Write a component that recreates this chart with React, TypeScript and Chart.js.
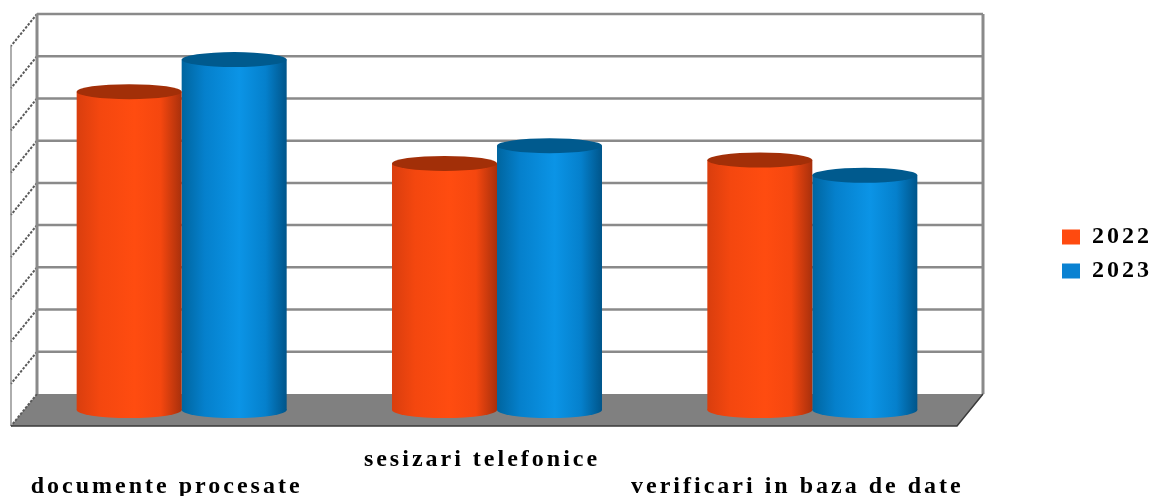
import React, { useEffect, useRef } from "react";
import { Chart, registerables } from "chart.js";

Chart.register(...registerables);

const categories = [
  ["", "documente procesate"],
  ["sesizari telefonice", ""],
  ["", "verificari in baza de date"],
];
const series2022 = [7.54, 5.84, 5.92];
const series2023 = [8.3, 6.26, 5.56];
const seriesNames = ["2022", "2023"];
const yMin = 0;
const yMax = 9;
const yStep = 1;

const DX = 13;
const DY = 16;
const PLOT = { left: 24, top: 30, right: 970.5 };
const FONT = "'Liberation Serif'";
const GROUP_RATIO = 0.666;

const palettes = [
  { solid: "#ff4a0f", stops: ["#d93e0e", "#f4470f", "#ff4c10", "#f5470f", "#a8300c"], cap: "#a22f08" },
  { solid: "#0a82d2", stops: ["#00659f", "#0580cc", "#0b94e6", "#0580cc", "#00558a"], cap: "#005a8e" },
];

function barGradient(c: any) {
  const p = palettes[c.datasetIndex];
  if (c.dataIndex === undefined || c.type !== "data") return p.solid;
  const scale = c.chart.scales.x;
  if (!scale || scale.width == null) return p.solid;
  const step = scale.width / categories.length;
  const w = (step * GROUP_RATIO) / 2;
  const mid = scale.getPixelForTick(c.dataIndex);
  const x0 = c.datasetIndex === 0 ? mid - w : mid;
  const g = c.chart.ctx.createLinearGradient(x0, 0, x0 + w, 0);
  [0, 0.22, 0.55, 0.8, 1].forEach((o, i) => g.addColorStop(o, p.stops[i]));
  return g;
}

const scene = {
  id: "scene",
  beforeLayout(chart: any) {
    chart.ctx.letterSpacing = "3px";
  },
  afterLayout(chart: any) {
    const l = chart.legend;
    const w = l.right - l.left;
    const h = l.bottom - l.top;
    l.left = 1052;
    l.right = l.left + w;
    l.top = 215;
    l.bottom = l.top + h;
  },
  beforeDraw(chart: any) {
    chart.ctx.letterSpacing = "3px";
  },
  beforeDatasetsDraw(chart: any) {
    const { ctx, chartArea: a, scales } = chart;
    const y = scales.y;
    const backL = a.left + DX;
    const backR = a.right + DX;
    const frontL = a.left - DX;
    const frontR = a.right - DX;
    const base = y.getPixelForValue(yMin);
    const top = y.getPixelForValue(yMax);
    ctx.save();
    ctx.letterSpacing = "0px";
    // floor
    ctx.fillStyle = "#808080";
    ctx.beginPath();
    ctx.moveTo(backL, base - DY);
    ctx.lineTo(backR, base - DY);
    ctx.lineTo(frontR, base + DY);
    ctx.lineTo(frontL, base + DY);
    ctx.closePath();
    ctx.fill();
    // grid lines on the back wall and side wall
    y.ticks.forEach((t: any) => {
      const p = y.getPixelForValue(t.value);
      ctx.strokeStyle = "#8a8a8a";
      ctx.lineWidth = 2.5;
      if (t.value !== yMin) {
        ctx.beginPath();
        ctx.moveTo(backL, p - DY);
        ctx.lineTo(backR, p - DY);
        ctx.stroke();
      }
      ctx.strokeStyle = "#5a5a5a";
      ctx.lineWidth = 2;
      ctx.setLineDash([2.5, 1.5]);
      ctx.beginPath();
      ctx.moveTo(backL, p - DY);
      ctx.lineTo(frontL, p + DY);
      ctx.stroke();
      ctx.setLineDash([]);
    });
    // walls
    ctx.strokeStyle = "#8a8a8a";
    ctx.lineWidth = 3;
    ctx.beginPath();
    ctx.moveTo(backL, top - DY);
    ctx.lineTo(backL, base - DY);
    ctx.moveTo(backR, top - DY);
    ctx.lineTo(backR, base - DY);
    ctx.stroke();
    ctx.strokeStyle = "#777777";
    ctx.lineWidth = 1.2;
    ctx.beginPath();
    ctx.moveTo(frontL, top + DY);
    ctx.lineTo(frontL, base + DY);
    ctx.stroke();
    // floor front and right edges
    ctx.strokeStyle = "#3a3a3a";
    ctx.lineWidth = 1.5;
    ctx.beginPath();
    ctx.moveTo(frontL, base + DY);
    ctx.lineTo(frontR, base + DY);
    ctx.lineTo(backR, base - DY);
    ctx.stroke();
    // bottom of each cylinder
    chart.data.datasets.forEach((_: any, di: number) => {
      chart.getDatasetMeta(di).data.forEach((bar: any) => {
        ctx.fillStyle = bar.options.backgroundColor;
        ctx.beginPath();
        ctx.ellipse(bar.x, bar.base, bar.width / 2, 8, 0, 0, Math.PI * 2);
        ctx.fill();
      });
    });
    ctx.restore();
  },
  afterDatasetsDraw(chart: any) {
    const { ctx } = chart;
    ctx.save();
    chart.data.datasets.forEach((_: any, di: number) => {
      chart.getDatasetMeta(di).data.forEach((bar: any) => {
        ctx.fillStyle = palettes[di].cap;
        ctx.beginPath();
        ctx.ellipse(bar.x, bar.y, bar.width / 2, 7.5, 0, 0, Math.PI * 2);
        ctx.fill();
      });
    });
    ctx.restore();
  },
};

export default function App() {
  const ref = useRef<HTMLCanvasElement>(null);
  useEffect(() => {
    const chart = new Chart(ref.current as HTMLCanvasElement, {
      type: "bar",
      data: {
        labels: categories,
        datasets: [
          { label: seriesNames[0], data: series2022, backgroundColor: barGradient, borderWidth: 0 },
          { label: seriesNames[1], data: series2023, backgroundColor: barGradient, borderWidth: 0 },
        ],
      },
      options: {
        responsive: false,
        animation: false,
        layout: { padding: { left: PLOT.left, top: PLOT.top, right: 74, bottom: 0 } },
        datasets: { bar: { categoryPercentage: GROUP_RATIO, barPercentage: 1 } },
        plugins: {
          tooltip: { enabled: false },
          legend: {
            position: "right",
            align: "start",
            labels: {
              boxWidth: 18,
              boxHeight: 15,
              padding: 10,
              color: "#000",
              font: { family: FONT, size: 24, weight: "bold" },
              generateLabels(chart: any) {
                return Chart.defaults.plugins.legend.labels
                  .generateLabels(chart)
                  .map((item: any, i: number) => ({ ...item, fillStyle: palettes[i].solid, lineWidth: 0 }));
              },
            },
          },
        },
        scales: {
          x: {
            afterFit(scale: any) {
              scale.height = 86;
            },
            grid: { display: false },
            border: { display: false },
            ticks: {
              autoSkip: false,
              maxRotation: 0,
              minRotation: 0,
              padding: 28,
              labelOffset: -15,
              color: "#000",
              font: { family: FONT, size: 24, weight: "bold", lineHeight: 1.13 },
            },
          },
          y: {
            display: false,
            min: yMin,
            max: yMax,
            ticks: { stepSize: yStep },
          },
        },
      },
      plugins: [scene],
    } as any);
    return () => chart.destroy();
  }, []);
  return (
    <div style={{ position: "absolute", left: 0, top: 0, width: 1154, height: 496, background: "#fff" }}>
      <canvas ref={ref} width={1154} height={496} style={{ display: "block" }} />
    </div>
  );
}
